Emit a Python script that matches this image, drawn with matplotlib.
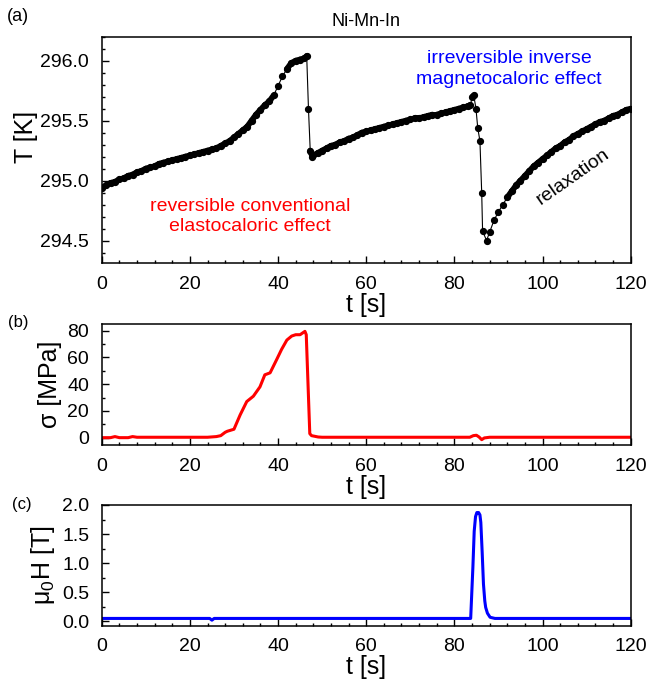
import matplotlib
matplotlib.use("Agg")
import matplotlib.pyplot as plt
import numpy as np
from matplotlib.ticker import MultipleLocator, FormatStrFormatter

plt.rcParams['font.family'] = ['Liberation Sans', 'DejaVu Sans']

# (a) sample temperature
t_temp = [0, 1, 2, 3, 4, 5, 6, 7, 8, 9, 10, 11, 12, 13, 14, 15, 16, 17, 18, 19,
          20, 21, 22, 23, 24, 25, 26, 27, 28, 29, 30, 31, 32, 33, 34, 35, 36, 37,
          38, 39, 40, 41, 42, 43, 44, 45, 46, 46.5, 46.9, 47.3, 47.8,
          48, 49, 50, 51, 52, 53, 54, 55, 56, 57, 58, 59, 60, 61, 62, 63, 64, 65,
          66, 67, 68, 69, 70, 71, 72, 73, 74, 75, 76, 77, 78, 79, 80, 81, 82, 83,
          83.6, 84.1, 84.4, 84.9, 85.3, 85.8, 86.2, 86.4, 87.3,
          88, 89, 90, 91, 92, 93, 94, 95, 96, 97, 98, 99, 100, 101, 102, 103, 104,
          105, 106, 107, 108, 109, 110, 111, 112, 113, 114, 115, 116, 117, 118,
          119, 120]
temp = [294.94, 294.96, 294.98, 294.99, 295.01, 295.02, 295.04, 295.05, 295.07,
        295.08, 295.10, 295.11, 295.12, 295.14, 295.15, 295.16, 295.17, 295.18,
        295.19, 295.20, 295.21, 295.22, 295.23, 295.24, 295.25, 295.26, 295.27,
        295.29, 295.31, 295.33, 295.36, 295.39, 295.42, 295.45, 295.50, 295.55,
        295.59, 295.63, 295.66, 295.71, 295.79, 295.87, 295.93, 295.98, 296.00,
        296.01, 296.02, 296.04, 295.60, 295.25, 295.20,
        295.21, 295.23, 295.25, 295.27, 295.29, 295.30, 295.32, 295.33, 295.35,
        295.36, 295.38, 295.40, 295.41, 295.42, 295.43, 295.44, 295.45, 295.46,
        295.47, 295.48, 295.49, 295.50, 295.51, 295.52, 295.52, 295.53, 295.54,
        295.55, 295.55, 295.56, 295.57, 295.58, 295.59, 295.60, 295.61, 295.62,
        295.63, 295.70, 295.71, 295.60, 295.44, 295.33, 294.90, 294.58, 294.50,
        294.57, 294.67, 294.74, 294.80, 294.86, 294.91, 294.96, 295.00, 295.04,
        295.08, 295.12, 295.15, 295.18, 295.21, 295.24, 295.27, 295.29, 295.32,
        295.34, 295.37, 295.39, 295.41, 295.43, 295.45, 295.47, 295.49, 295.50,
        295.52, 295.54, 295.55, 295.57, 295.59, 295.60]

# (b) applied stress
t_stress = [0, 2, 3, 4, 6, 7, 8, 10, 15, 20, 24, 26, 27, 28, 28.5, 30, 31.4,
            32.9, 34.4, 35.9, 37.0, 38.2, 39.7, 40.8, 42.0, 43.1, 44, 45, 46.1,
            46.4, 47.2, 47.6, 49.1, 50, 60, 70, 80, 83.5, 84.3, 85, 85.6, 86.2,
            86.8, 88, 100, 110, 120]
stress = [0, 0, 0.8, 0, 0, 0.8, 0.3, 0.3, 0.3, 0.3, 0.3, 0.8, 1.5, 4, 4.8, 6.3,
          17, 27, 31, 38, 47, 48.5, 58.5, 66, 73, 76, 77, 77, 79.5, 77, 3, 1.5,
          0.5, 0.3, 0.3, 0.3, 0.3, 0.3, 1.5, 1.8, 0.5, -1.5, -0.2, 0.3, 0.3,
          0.3, 0.3]

# (c) magnetic field
t_field = [0, 10, 20, 24.5, 25, 25.5, 30, 40, 50, 60, 70, 80, 83.7, 84.2, 84.5,
           84.8, 85.1, 85.5, 85.8, 86.0, 86.3, 86.6, 86.9, 87.1, 87.5, 88.1,
           89.2, 95, 100, 110, 120]
field = [0.05, 0.05, 0.05, 0.05, 0.02, 0.05, 0.05, 0.05, 0.05, 0.05, 0.05, 0.05,
         0.05, 0.93, 1.55, 1.80, 1.87, 1.87, 1.83, 1.70, 1.20, 0.64, 0.35, 0.24,
         0.14, 0.07, 0.05, 0.05, 0.05, 0.05, 0.05]

fig = plt.figure(figsize=(6.5, 6.84), dpi=100)
ax_a = fig.add_axes([0.1565, 0.615, 0.8138, 0.3313])
ax_b = fig.add_axes([0.1565, 0.3494, 0.8138, 0.1769])
ax_c = fig.add_axes([0.1565, 0.0848, 0.8138, 0.1769])


def style_axis(ax, ymajor, yminor):
    ax.set_xlim(0, 120)
    ax.xaxis.set_major_locator(MultipleLocator(20))
    ax.xaxis.set_minor_locator(MultipleLocator(4))
    ax.yaxis.set_major_locator(MultipleLocator(ymajor))
    ax.yaxis.set_minor_locator(MultipleLocator(yminor))
    ax.tick_params(which='both', direction='in', top=False, right=False,
                   labelsize=14, width=1.0, pad=9)
    ax.tick_params(which='major', length=5)
    ax.tick_params(which='minor', length=2.5)
    for s in ax.spines.values():
        s.set_linewidth(1.1)
    ax.set_xlabel("t [s]", fontsize=18, labelpad=0)


# thin line + dots everywhere, thick band along the slowly varying parts
ta = np.array(t_temp)
Ta = np.array(temp)
ax_a.plot(ta, Ta, color='black', lw=0.8, marker='o', ms=4.2)
smooth = np.abs(np.diff(Ta)) < 0.06
for i in np.where(smooth)[0]:
    ax_a.plot(ta[i:i + 2], Ta[i:i + 2], color='black', lw=4.2,
              solid_capstyle='round')
ax_a.set_ylim(294.31, 296.2)
style_axis(ax_a, 0.5, 0.1)
ax_a.yaxis.set_major_formatter(FormatStrFormatter('%.1f'))
ax_a.set_ylabel("T [K]", fontsize=18)
ax_a.yaxis.set_label_coords(-0.12, 0.56)
ax_a.set_title("Ni-Mn-In", fontsize=13, pad=8)
ax_a.text(33.6, 294.70, "reversible conventional\nelastocaloric effect",
          color='red', fontsize=14, ha='center', va='center', linespacing=1.25)
ax_a.text(92.4, 295.93, "irreversible inverse\nmagnetocaloric effect",
          color='blue', fontsize=14, ha='center', va='center', linespacing=1.25)
ax_a.text(107, 295.03, "relaxation", fontsize=14, rotation=35,
          ha='center', va='center')

ax_b.plot(t_stress, stress, color='red', lw=2.2)
ax_b.set_ylim(-5.5, 85)
style_axis(ax_b, 20, 10)
ax_b.set_ylabel("σ [MPa]", fontsize=18, labelpad=4)

ax_c.plot(t_field, field, color='blue', lw=2.2)
ax_c.set_ylim(-0.08, 2.0)
style_axis(ax_c, 0.5, 0.25)
ax_c.yaxis.set_major_formatter(FormatStrFormatter('%.1f'))
ax_c.set_ylabel(r"$\mathregular{\mu_0}$H [T]", fontsize=18, labelpad=4)

fig.text(0.028, 0.976, "(a)", fontsize=13, ha='center', va='center')
fig.text(0.028, 0.529, "(b)", fontsize=12, ha='center', va='center')
fig.text(0.034, 0.262, "(c)", fontsize=12, ha='center', va='center')

fig.savefig("out.png", dpi=100)
